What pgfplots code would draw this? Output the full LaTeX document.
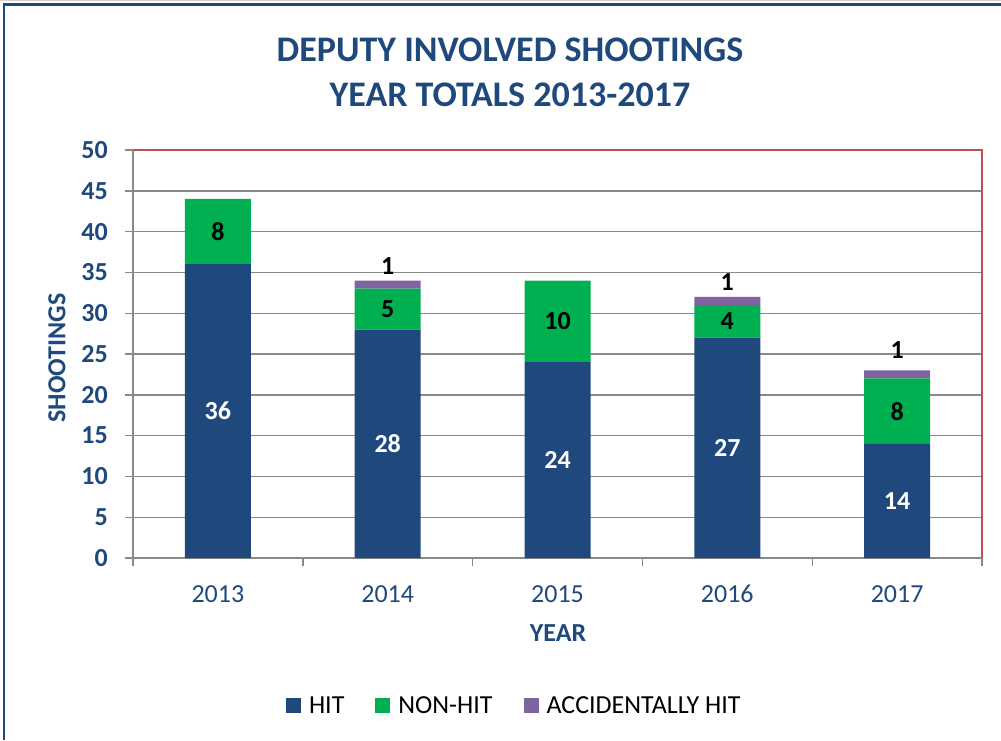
\documentclass[border=0pt]{standalone}
\usepackage{fontspec}
\setmainfont{Carlito}
\usepackage{pgfplots}
\pgfplotsset{compat=1.18}
\definecolor{hitblue}{HTML}{1F497D}
\definecolor{nongreen}{HTML}{00B050}
\definecolor{accpurple}{HTML}{8064A2}
\definecolor{bordred}{HTML}{C0504D}
\definecolor{gridgray}{HTML}{898989}
\newcommand{\fs}{\fontsize{26}{31}\selectfont}
\pgfplotsset{sq legend/.style={legend image code/.code={\fill[##1] (0pt,-7.5pt) rectangle (15pt,7.5pt); \path (21pt,0pt);}}}
\begin{document}
\begin{tikzpicture}[x=1pt,y=1pt]
\useasboundingbox (0,0) rectangle (1001,740);
\draw[line width=1pt, color=gray!35] (0,739.5) -- (1001,739.5);
\draw[line width=2.6pt, hitblue] (4,0) -- (4,735.5) -- (1001,735.5);
\node[anchor=base, font=\fontsize{36}{43}\selectfont\bfseries, text=hitblue] at (510,678) {DEPUTY INVOLVED SHOOTINGS};
\node[anchor=base, font=\fontsize{36}{43}\selectfont\bfseries, text=hitblue] at (510,633) {YEAR TOTALS 2013-2017};
\begin{axis}[
  at={(133pt,182pt)}, anchor=south west,
  scale only axis, width=849pt, height=408pt,
  ybar stacked, bar width=66pt,
  xmin=-0.5, xmax=4.5, ymin=0, ymax=50,
  clip=false,
  ytick={0,5,...,50},
  xtick={-0.5,0.5,...,4.5}, xticklabels={},
  extra x ticks={0,1,2,3,4},
  extra x tick labels={2013,2014,2015,2016,2017},
  extra x tick style={major tick length=0pt, grid=none,
     xticklabel style={font=\fs, text=hitblue, inner sep=0pt, anchor=north, yshift=-27pt}},
  tick align=outside, major tick length=8pt,
  xtick pos=bottom, ytick pos=left,
  ymajorgrids, grid style={gridgray, line width=1.4pt},
  axis line style={draw=none},
  tick style={gridgray, line width=1.4pt},
  /pgf/number format/assume math mode=true,
  yticklabel style={font=\fs\bfseries, text=hitblue, inner sep=0pt, anchor=east, xshift=-17pt},
  ylabel={SHOOTINGS},
  every axis y label/.style={at={(axis description cs:-0.0895,0.49)}, rotate=90, anchor=center, font=\fs\bfseries, text=hitblue},
  xlabel={YEAR},
  every axis x label/.style={at={(axis description cs:0.5006,-0.184)}, anchor=center, font=\fs\bfseries, text=hitblue},
  legend columns=3,
  legend style={at={(axis description cs:0.18,-0.362)}, anchor=west, draw=none, inner sep=0pt, font=\fs,
     /tikz/every even column/.append style={column sep=29pt}},
]
\addplot[fill=hitblue, draw=none, sq legend] coordinates {(0,36) (1,28) (2,24) (3,27) (4,14)};
\addplot[fill=nongreen, draw=none, sq legend] coordinates {(0,8) (1,5) (2,10) (3,4) (4,8)};
\addplot[fill=accpurple, draw=none, sq legend] coordinates {(0,0) (1,1) (2,0) (3,1) (4,1)};
\legend{HIT, NON-HIT, ACCIDENTALLY HIT}
\draw[gridgray, line width=1.4pt] (rel axis cs:0,1) -- (rel axis cs:0,0) -- (rel axis cs:1,0);
\draw[bordred, line width=1.4pt] (rel axis cs:0,1) -- (rel axis cs:1,1) -- (rel axis cs:1,0);
\end{axis}
\begin{axis}[
  at={(133pt,182pt)}, anchor=south west,
  scale only axis, width=849pt, height=408pt,
  xmin=-0.5, xmax=4.5, ymin=0, ymax=50, hide axis, clip=false]
\addplot[only marks, mark=none, nodes near coords, point meta=explicit symbolic,
  every node near coord/.append style={font=\fs\bfseries, text=white, anchor=center, inner sep=0pt}]
  coordinates {(0,18)[36] (1,14)[28] (2,12)[24] (3,13.5)[27] (4,7)[14]};
\addplot[only marks, mark=none, nodes near coords, point meta=explicit symbolic,
  every node near coord/.append style={font=\fs\bfseries, text=black, anchor=center, inner sep=0pt}]
  coordinates {(0,40)[8] (1,30.5)[5] (2,29)[10] (3,29)[4] (4,18)[8]};
\addplot[only marks, mark=none, nodes near coords, point meta=explicit symbolic,
  every node near coord/.append style={font=\fs\bfseries, text=black, anchor=base, inner sep=0pt}]
  coordinates {(1,34.7)[1] (3,32.8)[1] (4,24.5)[1]};
\end{axis}
\end{tikzpicture}
\end{document}
